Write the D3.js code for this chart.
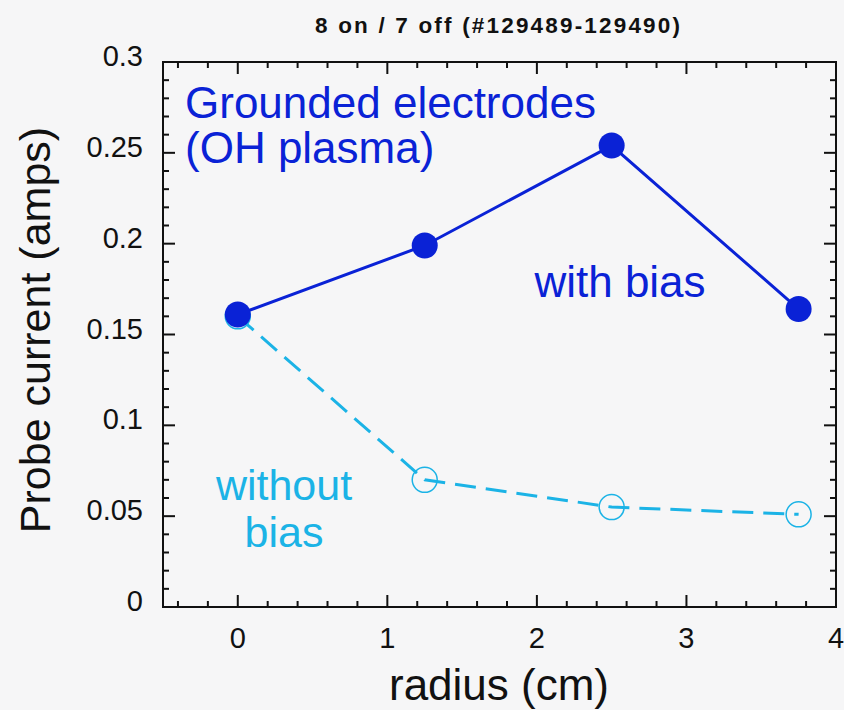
<!DOCTYPE html>
<html>
<head>
<meta charset="utf-8">
<script src="https://cdn.jsdelivr.net/npm/d3@7"></script>
<style>
  body { margin: 0; background: #f6f6f7; }
  svg { display: block; font-family: "Liberation Sans", Arial, sans-serif; }
</style>
</head>
<body>
<svg id="chart" width="844" height="710"></svg>
<script>
// radius (cm)
const radius = [0, 1.25, 2.5, 3.75];
const withBias = [0.161, 0.199, 0.254, 0.164];
const withoutBias = [0.160, 0.070, 0.055, 0.051];
const xTicks = [0, 1, 2, 3, 4];
const yTicks = [0, 0.05, 0.1, 0.15, 0.2, 0.25, 0.3];

const svg = d3.select('#chart');
const W = 844, H = 710;
const m = {left: 163, right: 836, top: 62, bottom: 607};

svg.append('rect').attr('width', W).attr('height', H).attr('fill', '#f6f6f7');

const x = d3.scaleLinear().domain([-0.5, 4]).range([m.left, m.right]);
const y = d3.scaleLinear().domain([0, 0.3]).range([m.bottom, m.top]);

const darkBlue = '#0a22d6';
const cyan = '#1bb3e6';

// frame
svg.append('rect')
  .attr('x', m.left).attr('y', m.top)
  .attr('width', m.right - m.left).attr('height', m.bottom - m.top)
  .attr('fill', 'none').attr('stroke', '#111').attr('stroke-width', 2);

// ticks inward on all four sides
const xMinor = d3.range(-0.4, 4.0001, 0.2).filter(v => Math.abs(v - Math.round(v)) > 1e-6);
const yMinor = d3.range(0.01, 0.3, 0.01).filter(v => Math.abs(v * 20 - Math.round(v * 20)) > 1e-6);

const tickG = svg.append('g').attr('stroke', '#111').attr('stroke-width', 2);
function xTick(v, len) {
  tickG.append('line').attr('x1', x(v)).attr('x2', x(v)).attr('y1', m.bottom).attr('y2', m.bottom - len);
  tickG.append('line').attr('x1', x(v)).attr('x2', x(v)).attr('y1', m.top).attr('y2', m.top + len);
}
function yTick(v, len) {
  tickG.append('line').attr('y1', y(v)).attr('y2', y(v)).attr('x1', m.left).attr('x2', m.left + len);
  tickG.append('line').attr('y1', y(v)).attr('y2', y(v)).attr('x1', m.right).attr('x2', m.right - len);
}
xTicks.forEach(v => xTick(v, 12));
xMinor.forEach(v => xTick(v, 6));
yTicks.forEach(v => yTick(v, 12));
yMinor.forEach(v => yTick(v, 6));

// tick labels
svg.append('g').selectAll('text').data(xTicks).enter().append('text')
  .attr('x', d => x(d)).attr('y', 648)
  .attr('text-anchor', 'middle').attr('font-size', 29).attr('fill', '#111')
  .text(d => d);

svg.append('g').selectAll('text').data(yTicks).enter().append('text')
  .attr('x', m.left - 20).attr('y', d => y(d) + 4)
  .attr('text-anchor', 'end').attr('font-size', 29).attr('fill', '#111')
  .text(d => d === 0 ? '0' : String(d));

// axis titles
svg.append('text')
  .attr('x', 499).attr('y', 700)
  .attr('text-anchor', 'middle').attr('font-size', 44).attr('fill', '#111')
  .text('radius (cm)');

svg.append('text')
  .attr('transform', 'translate(50,330) rotate(-90)')
  .attr('text-anchor', 'middle').attr('font-size', 43).attr('fill', '#111')
  .text('Probe current (amps)');

svg.append('text')
  .attr('x', 315).attr('y', 33)
  .attr('font-size', 22.5).attr('font-weight', 'bold').attr('fill', '#111')
  .attr('textLength', 365).attr('lengthAdjust', 'spacing')
  .text('8 on / 7 off (#129489-129490)');

// lines
const line = d3.line().x(d => x(d[0])).y(d => y(d[1]));
const offData = radius.map((r, i) => [r, withoutBias[i]]);
const onData = radius.map((r, i) => [r, withBias[i]]);

svg.append('path').datum(offData).attr('d', line)
  .attr('fill', 'none').attr('stroke', cyan).attr('stroke-width', 3)
  .attr('stroke-dasharray', '21,10');

svg.append('g').selectAll('circle').data(offData).enter().append('circle')
  .attr('cx', d => x(d[0])).attr('cy', d => y(d[1])).attr('r', 12.5)
  .attr('fill', 'none').attr('stroke', cyan).attr('stroke-width', 1.5);

svg.append('path').datum(onData).attr('d', line)
  .attr('fill', 'none').attr('stroke', darkBlue).attr('stroke-width', 3);

svg.append('g').selectAll('circle').data(onData).enter().append('circle')
  .attr('cx', d => x(d[0])).attr('cy', d => y(d[1])).attr('r', 13)
  .attr('fill', darkBlue);

// annotations
const note = svg.append('g').attr('font-size', 44);
note.append('text').attr('x', 185).attr('y', 118).attr('fill', darkBlue).text('Grounded electrodes');
note.append('text').attr('x', 185).attr('y', 163).attr('fill', darkBlue).text('(OH plasma)');
note.append('text').attr('x', 620).attr('y', 297).attr('text-anchor', 'middle').attr('fill', darkBlue).text('with bias');
note.append('text').attr('x', 284).attr('y', 500).attr('text-anchor', 'middle').attr('fill', cyan)
  .attr('font-size', 43).text('without');
note.append('text').attr('x', 284).attr('y', 547).attr('text-anchor', 'middle').attr('fill', cyan)
  .attr('font-size', 43).text('bias');
</script>
</body>
</html>
